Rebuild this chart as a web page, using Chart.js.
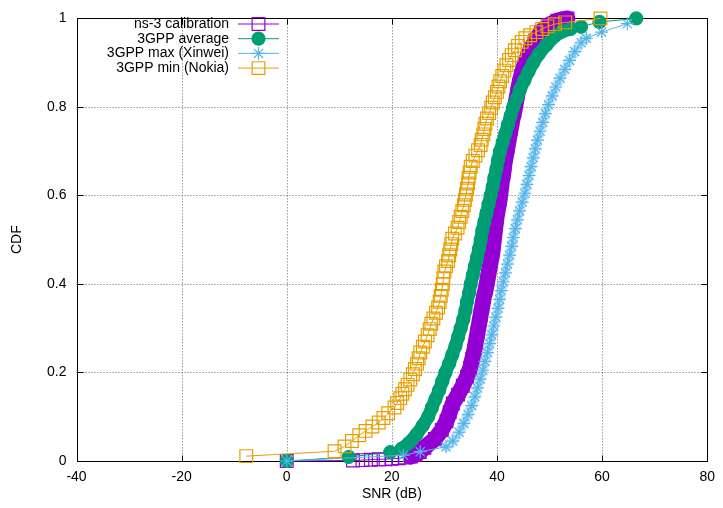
<!DOCTYPE html>
<html>
<head>
<meta charset="utf-8">
<script src="https://cdn.jsdelivr.net/npm/chart.js@4"></script>
<style>
  body { margin: 0; background: #fff; }
  #wrap { width: 723px; height: 508px; }
</style>
</head>
<body>
<div id="wrap"><canvas id="cdfChart" width="723" height="508"></canvas></div>
<script>
// SNR CDF data
const ns3Snr = [0, 12.6, 14.4, 16.0, 17.5, 18.8, 20.0, 21.3, 22.5, 23.6, 24.5, 25.3,
    26.2, 28.2, 29.5, 30.4, 31.0, 31.6, 32.6, 33.5, 34.3, 34.9, 35.3, 35.7, 36.0, 36.3,
    36.6, 36.9, 37.2, 37.5, 37.9, 38.2, 38.5, 38.8, 39.1, 39.3, 39.5, 39.7, 39.9, 40.2,
    40.5, 40.7, 40.9, 41.2, 41.4, 41.7, 42.0, 42.3, 42.6, 42.9, 43.3, 43.6, 43.9, 44.2,
    44.6, 45.1, 45.7, 46.4, 47.3, 48.4, 49.8, 51.5, 53.4];
const ns3Cdf = [0, 0.001, 0.002, 0.003, 0.004, 0.004, 0.005, 0.006, 0.008, 0.01, 0.014, 0.02,
    0.03, 0.05, 0.07, 0.09, 0.11, 0.13, 0.15, 0.17, 0.19, 0.21, 0.23, 0.25, 0.27, 0.29,
    0.31, 0.33, 0.35, 0.37, 0.39, 0.41, 0.43, 0.45, 0.47, 0.49, 0.51, 0.53, 0.55, 0.57,
    0.59, 0.61, 0.63, 0.65, 0.67, 0.69, 0.71, 0.73, 0.75, 0.77, 0.79, 0.81, 0.83, 0.85,
    0.87, 0.89, 0.91, 0.93, 0.95, 0.97, 0.985, 0.995, 1.0];

const avgSnr = [0, 11.8, 19.7, 21.9, 23.2, 24.7, 25.9, 26.9, 27.6, 28.3, 29.0, 29.6, 30.2,
    30.9, 31.5, 32.1, 32.6, 33.1, 33.6, 34.0, 34.3, 34.7, 35.0, 35.4, 35.8, 36.2, 36.6,
    36.9, 37.2, 37.6, 38.0, 38.4, 38.8, 39.2, 39.5, 39.9, 40.2, 40.6, 41.1, 41.6, 42.1,
    42.6, 43.1, 43.8, 44.4, 45.2, 46.0, 46.9, 48.0, 49.4, 51.0, 52.3, 54.0, 56.0, 59.5, 66.5];
const avgCdf = [0, 0.009, 0.02, 0.028, 0.04, 0.06, 0.08, 0.10, 0.12, 0.14, 0.16, 0.18, 0.20,
    0.22, 0.24, 0.26, 0.28, 0.30, 0.32, 0.34, 0.36, 0.38, 0.40, 0.42, 0.44, 0.46, 0.48,
    0.50, 0.52, 0.54, 0.56, 0.58, 0.60, 0.62, 0.64, 0.66, 0.68, 0.70, 0.72, 0.74, 0.76,
    0.78, 0.80, 0.82, 0.84, 0.86, 0.88, 0.90, 0.92, 0.94, 0.96, 0.97, 0.976, 0.981, 0.992, 1.0];

const maxSnr = [0, 22.2, 25.4, 30.3, 31.6, 32.8, 33.7, 34.5, 35.2, 35.8, 36.3, 36.8, 37.3,
    37.7, 38.2, 38.6, 39.0, 39.4, 39.8, 40.2, 40.5, 40.8, 41.2, 41.6, 42.0, 42.4, 42.8,
    43.1, 43.5, 43.9, 44.3, 44.8, 45.3, 45.7, 46.1, 46.5, 46.9, 47.3, 47.7, 48.2, 48.7,
    49.2, 49.8, 50.5, 51.2, 52.0, 52.9, 53.8, 54.8, 56.0, 57.0, 59.9, 64.8];
const maxCdf = [0, 0.013, 0.021, 0.032, 0.045, 0.065, 0.085, 0.105, 0.125, 0.145, 0.165,
    0.185, 0.205, 0.225, 0.245, 0.265, 0.285, 0.305, 0.325, 0.345, 0.365, 0.385, 0.405,
    0.425, 0.445, 0.465, 0.485, 0.505, 0.525, 0.545, 0.565, 0.585, 0.605, 0.625, 0.645,
    0.665, 0.685, 0.705, 0.725, 0.745, 0.765, 0.785, 0.805, 0.825, 0.845, 0.865, 0.885,
    0.905, 0.925, 0.945, 0.955, 0.969, 0.988];

const minSnr = [-7.7, 9.1, 11.0, 12.4, 13.8, 15.0, 16.3, 17.5, 18.4, 19.3, 20.5, 21.0, 21.6,
    22.0, 22.5, 23.0, 23.5, 24.0, 24.4, 24.8, 25.1, 25.4, 25.9, 26.3, 26.8, 27.2, 27.5,
    27.9, 28.4, 28.8, 29.1, 29.3, 29.5, 29.7, 29.8, 30.0, 30.3, 30.7, 30.9, 31.1, 31.3,
    31.5, 32.0, 32.5, 32.8, 33.1, 33.4, 33.7, 33.9, 34.1, 34.3, 34.5, 34.6, 34.8, 35.0,
    35.4, 35.9, 36.4, 36.9, 37.1, 37.4, 37.6, 37.8, 38.1, 38.5, 38.9, 39.2, 39.6, 40.0,
    40.3, 40.6, 41.0, 41.4, 41.8, 42.3, 42.8, 43.4, 44.0, 44.7, 45.4, 46.3, 47.5, 48.6,
    49.6, 51.0, 53.0, 59.7];
const minCdf = [0.011, 0.022, 0.033, 0.045, 0.058, 0.068, 0.078, 0.087, 0.097, 0.108, 0.121,
    0.131, 0.142, 0.152, 0.162, 0.172, 0.184, 0.196, 0.208, 0.22, 0.232, 0.245, 0.258, 0.27,
    0.284, 0.298, 0.31, 0.322, 0.335, 0.347, 0.36, 0.373, 0.387, 0.4, 0.413, 0.428, 0.44,
    0.452, 0.465, 0.478, 0.49, 0.502, 0.514, 0.527, 0.54, 0.552, 0.565, 0.578, 0.59, 0.602,
    0.615, 0.627, 0.64, 0.652, 0.665, 0.678, 0.69, 0.702, 0.714, 0.726, 0.738, 0.75, 0.762,
    0.774, 0.786, 0.798, 0.81, 0.822, 0.834, 0.846, 0.858, 0.87, 0.882, 0.894, 0.906, 0.917,
    0.928, 0.938, 0.947, 0.955, 0.962, 0.969, 0.976, 0.982, 0.987, 0.991, 1.0];

const xTicks = [-40, -20, 0, 20, 40, 60, 80];
const yTicks = [0, 0.2, 0.4, 0.6, 0.8, 1];

const FONT = 'Liberation Sans, Arial, sans-serif';
const FONT_SIZE = 14;

// gnuplot draws in file order, first series at the bottom
const series = [
    { label: 'ns-3 calibration', snr: ns3Snr, cdf: ns3Cdf, color: '#9400d3', style: 'rect', radius: 9, filled: false,
      band: { from: 9, to: ns3Snr.length, width: 16, color: '#9400d3' }, order: 4 },
    { label: '3GPP average', snr: avgSnr, cdf: avgCdf, color: '#009e73', style: 'circle', radius: 6.5, filled: true,
      band: { from: 3, to: 53, width: 13, color: '#009e73' }, order: 3 },
    { label: '3GPP max (Xinwei)', snr: maxSnr, cdf: maxCdf, color: '#56b4e9', style: 'star', radius: 6.5, filled: false,
      band: { from: 3, to: 51, width: 10, color: 'rgba(86,180,233,0.35)' }, order: 2 },
    { label: '3GPP min (Nokia)', snr: minSnr, cdf: minCdf, color: '#e69f00', style: 'rect', radius: 9, filled: false,
      band: null, order: 1 }
];

const datasets = [];
series.forEach(s => {
    const pts = s.snr.map((v, i) => ({ x: v, y: s.cdf[i] }));
    if (s.band) {
        // many overlapping markers merge into a solid band
        datasets.push({
            data: pts.slice(s.band.from, s.band.to),
            showLine: true,
            borderColor: s.band.color,
            borderWidth: s.band.width,
            borderCapStyle: 'round',
            borderJoinStyle: 'round',
            pointRadius: 0,
            clip: false,
            order: s.order + 0.5
        });
    }
    datasets.push({
        label: s.label,
        data: pts,
        showLine: true,
        borderColor: s.color,
        borderWidth: 1,
        pointStyle: s.style,
        pointRadius: s.radius,
        pointHoverRadius: s.radius,
        pointBorderWidth: 1.2,
        pointBorderColor: s.color,
        pointBackgroundColor: s.filled ? s.color : 'rgba(0,0,0,0)',
        clip: false,
        order: s.order
    });
});

const gnuplotFrame = {
    id: 'gnuplotFrame',
    beforeDatasetsDraw(chart) {
        const { ctx, chartArea: a, scales: { x, y } } = chart;
        ctx.save();
        // dotted grid
        ctx.strokeStyle = 'rgba(0,0,0,0.6)';
        ctx.lineWidth = 1;
        ctx.setLineDash([1, 2]);
        xTicks.slice(1, -1).forEach(v => {
            const px = Math.round(x.getPixelForValue(v)) + 0.5;
            ctx.beginPath(); ctx.moveTo(px, a.top); ctx.lineTo(px, a.bottom); ctx.stroke();
        });
        yTicks.slice(1, -1).forEach(v => {
            const py = Math.round(y.getPixelForValue(v)) + 0.5;
            ctx.beginPath(); ctx.moveTo(a.left, py); ctx.lineTo(a.right, py); ctx.stroke();
        });
        ctx.setLineDash([]);
        // border and inward ticks
        ctx.strokeStyle = '#000';
        const l = Math.round(a.left) + 0.5, r = Math.round(a.right) + 0.5;
        const t = Math.round(a.top) + 0.5, b = Math.round(a.bottom) + 0.5;
        ctx.strokeRect(l, t, r - l, b - t);
        ctx.beginPath();
        xTicks.forEach(v => {
            const px = Math.round(x.getPixelForValue(v)) + 0.5;
            ctx.moveTo(px, b); ctx.lineTo(px, b - 6);
            ctx.moveTo(px, t); ctx.lineTo(px, t + 6);
        });
        yTicks.forEach(v => {
            const py = Math.round(y.getPixelForValue(v)) + 0.5;
            ctx.moveTo(l, py); ctx.lineTo(l + 6, py);
            ctx.moveTo(r, py); ctx.lineTo(r - 6, py);
        });
        ctx.stroke();
        ctx.restore();
    },
    afterDatasetsDraw(chart) {
        // gnuplot-style key: text right aligned, then line sample with marker
        const ctx = chart.ctx;
        ctx.save();
        ctx.font = FONT_SIZE + 'px ' + FONT;
        ctx.textAlign = 'right';
        ctx.textBaseline = 'middle';
        series.forEach((s, i) => {
            const yy = 24 + i * 14.7;
            ctx.fillStyle = '#000';
            ctx.fillText(s.label, 229, yy);
            ctx.strokeStyle = s.color;
            ctx.lineWidth = 1;
            ctx.beginPath(); ctx.moveTo(238, yy); ctx.lineTo(279, yy); ctx.stroke();
            ctx.fillStyle = s.filled ? s.color : 'rgba(0,0,0,0)';
            ctx.lineWidth = 1.2;
            Chart.helpers.drawPoint(ctx, { pointStyle: s.style, radius: s.radius, rotation: 0, borderWidth: 1.2 }, 258.5, yy);
        });
        ctx.restore();
    }
};

new Chart(document.getElementById('cdfChart'), {
    type: 'scatter',
    data: { datasets },
    options: {
        responsive: false,
        animation: false,
        events: [],
        layout: { padding: { top: 11, right: 9, left: 0, bottom: 0 } },
        plugins: { legend: { display: false }, tooltip: { enabled: false } },
        scales: {
            x: {
                type: 'linear', min: -40, max: 80,
                afterBuildTicks: s => { s.ticks = xTicks.map(v => ({ value: v })); },
                ticks: { color: '#000', font: { family: FONT, size: FONT_SIZE }, padding: 8, maxRotation: 0, callback: v => String(v) },
                grid: { display: false, drawTicks: false },
                border: { display: false },
                title: { display: true, text: 'SNR (dB)', color: '#000', font: { family: FONT, size: FONT_SIZE }, padding: { top: 2, bottom: 5 } },
                afterFit: s => { s.height = 47; }
            },
            y: {
                type: 'linear', min: 0, max: 1,
                afterBuildTicks: s => { s.ticks = yTicks.map(v => ({ value: v })); },
                ticks: { color: '#000', font: { family: FONT, size: FONT_SIZE }, padding: 10, callback: v => String(+v.toFixed(1)) },
                grid: { display: false, drawTicks: false },
                border: { display: false },
                title: { display: true, text: 'CDF', color: '#000', font: { family: FONT, size: FONT_SIZE }, padding: { top: 9, bottom: 0 } },
                afterFit: s => { s.width = 76.5; }
            }
        }
    },
    plugins: [gnuplotFrame]
});
</script>
</body>
</html>
